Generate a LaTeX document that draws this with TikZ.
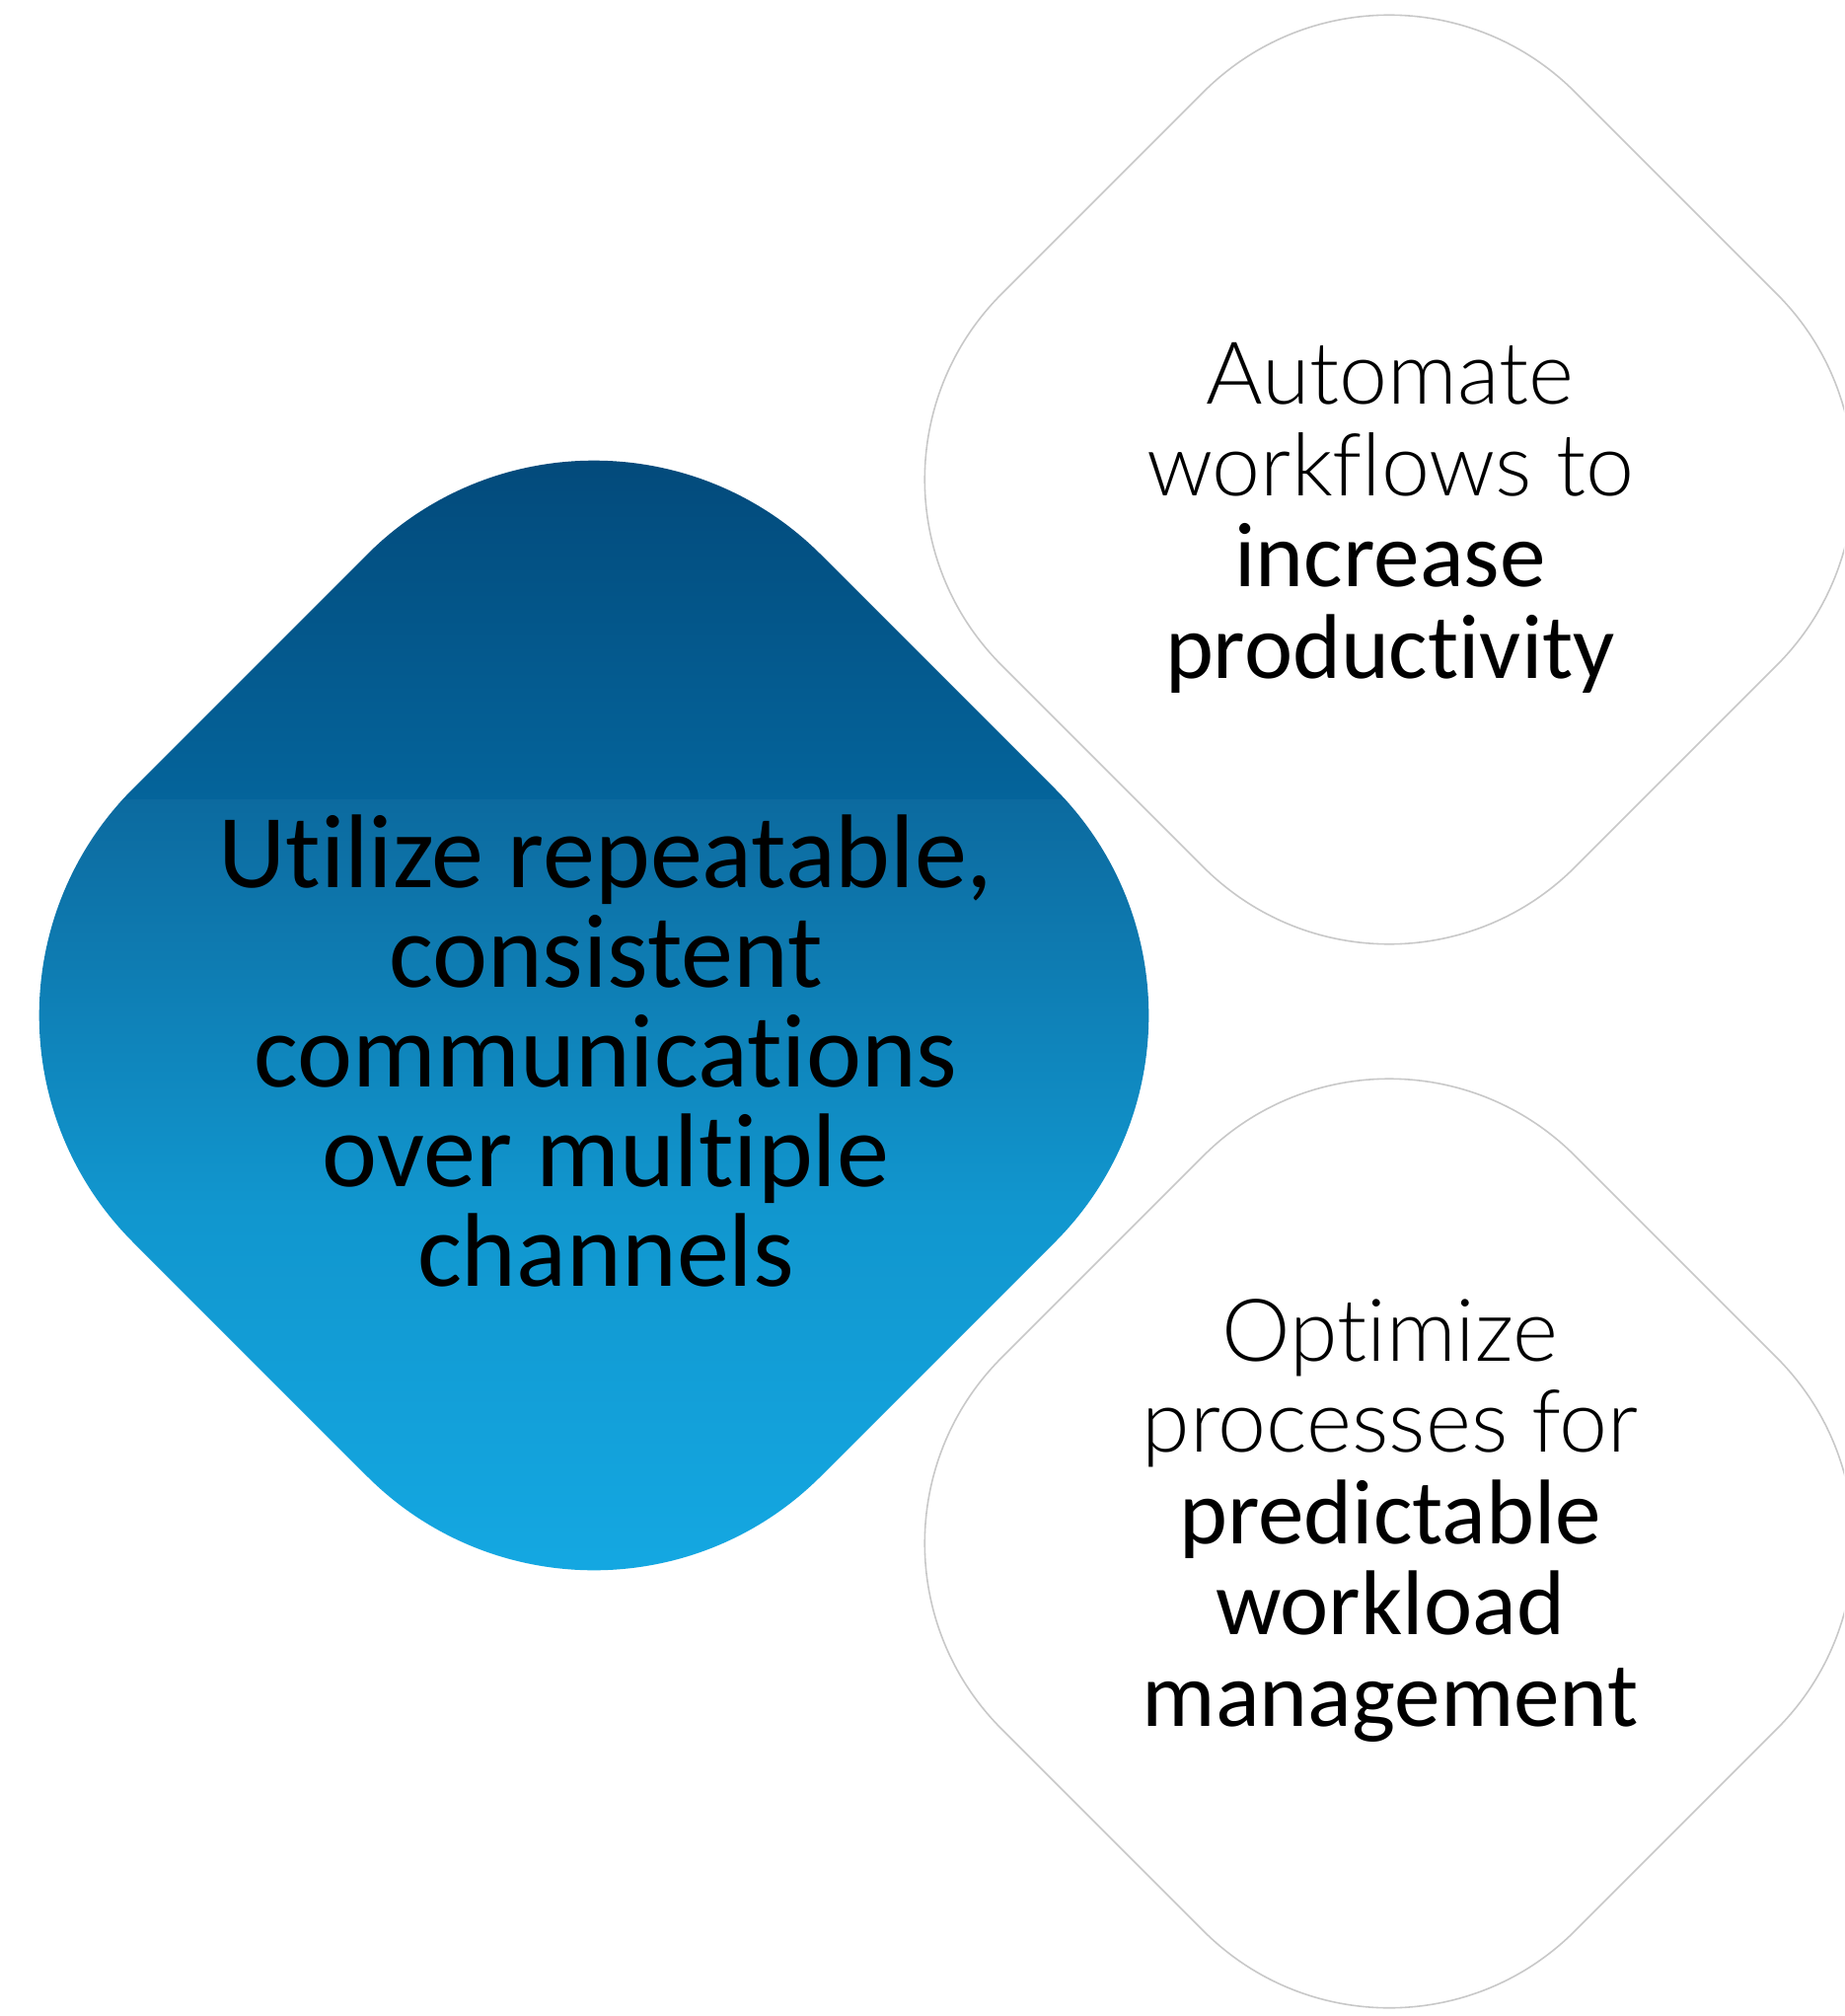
\documentclass[tikz,border=0pt]{standalone}
\usepackage{fontspec}
\setmainfont{Carlito}[Ligatures={NoCommon}]
\newfontfamily\lightfont{Lato Light}[Ligatures={NoCommon}]
\definecolor{blueA}{HTML}{034A7B}
\definecolor{blueB}{HTML}{04649B}
\definecolor{blueC}{HTML}{0C6A9F}
\definecolor{blueD}{HTML}{1196CE}
\definecolor{blueE}{HTML}{14A8E2}
\definecolor{outlinegray}{HTML}{C8C8C8}
\tikzset{
  outlinediamond/.style={draw=outlinegray, line width=0.45pt, fill=white, rounded corners=2.66cm},
  bigtext/.style={font=\fontsize{30.2}{28.7}\selectfont, align=center, inner sep=0pt, text=black},
  smalltext/.style={font=\fontsize{26.5}{26.3}\selectfont, align=center, inner sep=0pt, text=black}
}
\newcommand{\lt}[1]{{\lightfont\fontsize{25}{26.3}\selectfont #1}}
\begin{document}
\begin{tikzpicture}[x=0.01cm,y=-0.01cm]
\useasboundingbox (0,0) rectangle (1869,2043);
\clip (0,0) rectangle (1869,2043);
\fill[white] (0,0) rectangle (1869,2043);

% blue rounded diamond
\begin{scope}
  \clip[rounded corners=3.25cm] (602,332) -- (1299,1029) -- (602,1726) -- (-95,1029) -- cycle;
  \shade[top color=blueA, bottom color=blueB] (0,464) rectangle (1869,810.5);
  \shade[top color=blueC, bottom color=blueD] (0,810) rectangle (1869,1220.5);
  \shade[top color=blueD, bottom color=blueE] (0,1220) rectangle (1869,1600);
\end{scope}

% outlined rounded diamonds
\draw[outlinediamond] (1408,-95) -- (1989,486) -- (1408,1067) -- (827,486) -- cycle;
\draw[outlinediamond] (1408,983) -- (1989,1564) -- (1408,2145) -- (827,1564) -- cycle;

% texts (anchor = baseline of the last line)
\node[bigtext, anchor=base] (tmain) at (614,1303)
  {Utilize repeatable,\\consistent\\communications\\over multiple\\channels};
\node[smalltext, anchor=base] (ttop) at (1409,687)
  {\lt{Automate}\\\lt{workflows to}\\increase\\productivity};
\node[smalltext, anchor=base] (tbot) at (1409,1749)
  {\lt{Optimize}\\\lt{processes for}\\predictable\\workload\\management};
\end{tikzpicture}
\end{document}
